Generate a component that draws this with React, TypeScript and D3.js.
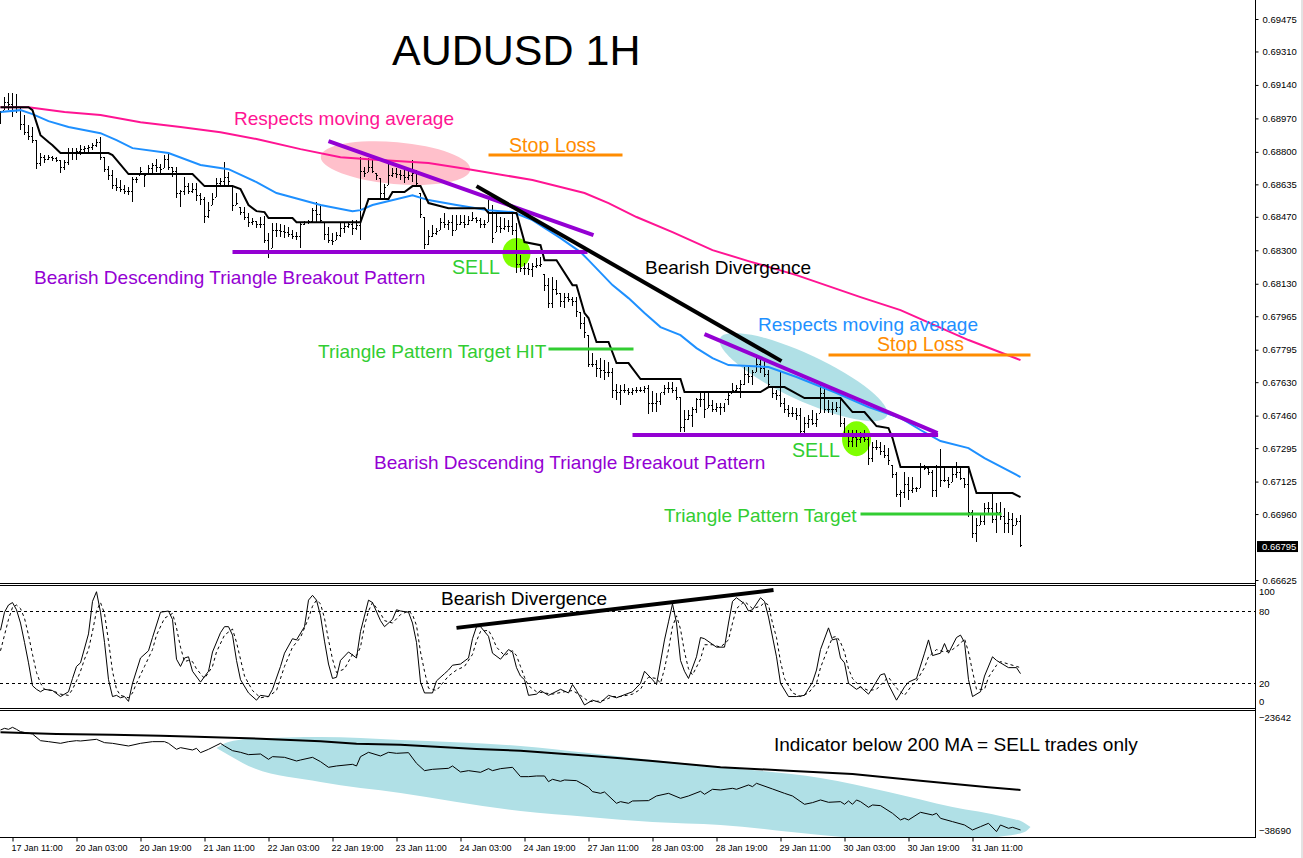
import React, { useEffect, useRef } from 'react';
import * as d3 from 'd3';

// prices are in points (1 point = 0.00001)
const highs = [
  69007, 69078, 69099, 69099, 69093, 69022, 68987, 68936, 68926, 68860, 68794, 68784, 68784, 68779, 68773, 68758,
  68758, 68819, 68819, 68819, 68834, 68829, 68834, 68845, 68865, 68875, 68773, 68728, 68707, 68667, 68657, 68631,
  68621, 68672, 68672, 68723, 68692, 68733, 68743, 68763, 68738, 68784, 68789, 68723, 68723, 68606, 68672, 68641,
  68641, 68641, 68591, 68570, 68545, 68591, 68667, 68667, 68748, 68697, 68631, 68591, 68519, 68519, 68489, 68464,
  68448, 68469, 68474, 68387, 68438, 68438, 68433, 68428, 68418, 68403, 68392, 68443, 68448, 68453, 68514, 68545,
  68535, 68443, 68418, 68387, 68392, 68438, 68438, 68443, 68453, 68453, 68773, 68723, 68768, 68758, 68692, 68667,
  68636, 68743, 68718, 68718, 68707, 68707, 68718, 68758, 68707, 68591, 68469, 68403, 68428, 68413, 68464, 68489,
  68453, 68479, 68479, 68479, 68479, 68474, 68494, 68469, 68464, 68453, 68555, 68530, 68489, 68469, 68464, 68453,
  68489, 68438, 68276, 68235, 68235, 68235, 68260, 68265, 68179, 68159, 68164, 68149, 68083, 68083, 68083, 68062,
  68062, 67986, 67961, 67869, 67778, 67742, 67752, 67742, 67732, 67702, 67620, 67615, 67620, 67600, 67600, 67605,
  67605, 67610, 67615, 67585, 67575, 67575, 67615, 67630, 67630, 67605, 67554, 67488, 67488, 67503, 67549, 67575,
  67575, 67580, 67539, 67524, 67524, 67524, 67575, 67625, 67615, 67641, 67707, 67707, 67691, 67752, 67752, 67742,
  67691, 67605, 67590, 67681, 67549, 67514, 67503, 67498, 67498, 67453, 67463, 67488, 67473, 67615, 67605, 67539,
  67529, 67529, 67549, 67448, 67387, 67387, 67387, 67376, 67387, 67361, 67326, 67336, 67326, 67310, 67295, 67209,
  67173, 67082, 67173, 67148, 67148, 67097, 67219, 67209, 67199, 67183, 67209, 67290, 67199, 67148, 67199, 67224,
  67199, 67143, 67194, 66980, 66940, 66965, 67016, 67021, 67067, 67016, 67021, 66990, 66970, 66965, 66940, 66955,
];

const lows = [
  68941, 69012, 69012, 68977, 68997, 68911, 68885, 68860, 68845, 68712, 68728, 68743, 68758, 68753, 68748, 68692,
  68707, 68733, 68758, 68758, 68784, 68794, 68799, 68809, 68824, 68758, 68697, 68657, 68611, 68601, 68596, 68585,
  68580, 68545, 68641, 68682, 68621, 68692, 68692, 68697, 68692, 68718, 68707, 68672, 68565, 68519, 68580, 68585,
  68591, 68550, 68530, 68438, 68464, 68530, 68570, 68631, 68631, 68631, 68499, 68530, 68479, 68453, 68418, 68428,
  68413, 68413, 68337, 68260, 68311, 68367, 68367, 68362, 68367, 68357, 68352, 68311, 68428, 68433, 68443, 68443,
  68438, 68352, 68337, 68326, 68352, 68367, 68387, 68413, 68377, 68403, 68352, 68672, 68697, 68692, 68657, 68565,
  68565, 68631, 68672, 68667, 68657, 68641, 68657, 68646, 68621, 68464, 68306, 68326, 68367, 68377, 68403, 68413,
  68403, 68372, 68403, 68428, 68413, 68428, 68448, 68438, 68413, 68413, 68443, 68337, 68392, 68387, 68403, 68392,
  68377, 68184, 68189, 68174, 68174, 68164, 68210, 68215, 68093, 68006, 68006, 68072, 68011, 68006, 68037, 68017,
  67961, 67900, 67854, 67707, 67707, 67656, 67651, 67641, 67656, 67549, 67539, 67514, 67575, 67564, 67564, 67575,
  67580, 67575, 67468, 67478, 67478, 67514, 67564, 67575, 67575, 67539, 67376, 67376, 67437, 67402, 67473, 67503,
  67448, 67498, 67478, 67478, 67463, 67478, 67514, 67575, 67580, 67549, 67615, 67625, 67615, 67681, 67676, 67656,
  67600, 67549, 67539, 67503, 67473, 67453, 67453, 67437, 67351, 67371, 67397, 67412, 67402, 67473, 67473, 67473,
  67463, 67478, 67402, 67351, 67300, 67300, 67300, 67321, 67326, 67209, 67224, 67285, 67260, 67244, 67209, 67143,
  67046, 66995, 67041, 67031, 67067, 67072, 67092, 67183, 67158, 67046, 67046, 67097, 67122, 67092, 67122, 67143,
  67133, 67092, 66945, 66838, 66818, 66904, 66904, 66965, 66914, 66863, 66929, 66863, 66863, 66853, 66904, 66792,
];

const closes = [
  69000, 69050, 69040, 69030, 69010, 68940, 68900, 68880, 68860, 68740, 68770, 68760, 68770, 68765, 68755, 68720,
  68745, 68790, 68790, 68800, 68810, 68815, 68820, 68830, 68850, 68770, 68710, 68680, 68630, 68620, 68610, 68600,
  68600, 68660, 68660, 68700, 68680, 68715, 68730, 68720, 68710, 68760, 68720, 68700, 68590, 68600, 68625, 68600,
  68610, 68580, 68560, 68470, 68500, 68560, 68640, 68650, 68670, 68650, 68530, 68540, 68490, 68465, 68440, 68445,
  68430, 68430, 68350, 68300, 68400, 68400, 68395, 68390, 68380, 68370, 68370, 68430, 68440, 68445, 68500, 68480,
  68450, 68380, 68350, 68345, 68375, 68410, 68420, 68430, 68410, 68425, 68700, 68690, 68720, 68700, 68680, 68590,
  68620, 68680, 68690, 68685, 68680, 68670, 68680, 68690, 68640, 68480, 68330, 68370, 68385, 68395, 68440, 68430,
  68440, 68400, 68430, 68440, 68430, 68450, 68460, 68450, 68430, 68430, 68500, 68360, 68420, 68410, 68420, 68420,
  68400, 68230, 68210, 68210, 68200, 68220, 68225, 68230, 68120, 68030, 68100, 68080, 68040, 68060, 68050, 68040,
  67990, 67930, 67880, 67720, 67720, 67700, 67690, 67680, 67680, 67590, 67580, 67590, 67590, 67580, 67590, 67590,
  67590, 67600, 67520, 67520, 67530, 67580, 67600, 67600, 67590, 67550, 67400, 67440, 67460, 67490, 67540, 67540,
  67490, 67510, 67490, 67500, 67500, 67540, 67560, 67590, 67600, 67620, 67670, 67660, 67680, 67720, 67700, 67670,
  67620, 67570, 67560, 67520, 67490, 67470, 67470, 67460, 67380, 67420, 67440, 67420, 67440, 67570, 67490, 67490,
  67490, 67500, 67420, 67370, 67330, 67350, 67340, 67350, 67340, 67240, 67300, 67300, 67280, 67260, 67230, 67160,
  67060, 67070, 67110, 67080, 67090, 67090, 67200, 67190, 67170, 67080, 67200, 67130, 67130, 67110, 67160, 67170,
  67140, 67110, 66970, 66860, 66900, 66920, 66990, 66990, 66930, 66970, 66950, 66910, 66930, 66900, 66920, 66800,
];

const pinkMa: [number, number][] = [
  [0, 69027], [7, 69027], [16, 69002], [25, 68987], [35, 68951], [45, 68926], [55, 68900], [64, 68865], [75, 68814],
  [85, 68773], [92, 68763], [107, 68743], [117, 68712], [133, 68657], [146, 68591], [152, 68540], [159, 68469],
  [168, 68392], [178, 68301], [187, 68245], [199, 68174], [207, 68118], [215, 68062], [225, 67996], [242, 67844], [255, 67742],
];

const blueMa: [number, number][] = [
  [0, 69002], [5, 69012], [8, 68992], [12, 68956], [17, 68926], [25, 68895], [29, 68860], [33, 68819], [42, 68794],
  [50, 68733], [57, 68712], [64, 68646], [69, 68591], [80, 68530], [88, 68499], [90, 68504], [93, 68530], [103, 68580],
  [107, 68555], [114, 68530], [122, 68504], [128, 68494], [133, 68453], [140, 68362], [145, 68291], [147, 68250],
  [153, 68123], [157, 68057], [161, 67981], [165, 67910], [170, 67869], [174, 67803], [178, 67752], [182, 67717],
  [192, 67707], [199, 67656], [209, 67575], [217, 67503], [225, 67448], [230, 67387], [235, 67331], [242, 67295],
  [246, 67244], [255, 67148],
];

const blackMa: [number, number][] = [
  [0, 69027], [7, 69027], [8, 69012], [10, 68885], [12, 68850], [13, 68834], [15, 68794], [27, 68794], [28, 68784],
  [32, 68687], [48, 68687], [51, 68626], [58, 68626], [60, 68611], [62, 68530], [64, 68499], [66, 68494], [67, 68464],
  [73, 68464], [74, 68443], [90, 68443], [92, 68560], [97, 68560], [98, 68596], [101, 68596], [103, 68626], [105, 68626],
  [107, 68540], [112, 68514], [121, 68514], [122, 68489], [129, 68489], [131, 68342], [135, 68326], [136, 68250],
  [139, 68250], [143, 68123], [144, 68123], [146, 67981], [147, 67956], [149, 67834], [152, 67834], [154, 67727],
  [157, 67727], [160, 67646], [170, 67646], [171, 67580], [190, 67580], [192, 67605], [196, 67605], [201, 67549],
  [210, 67549], [213, 67478], [216, 67478], [219, 67407], [222, 67397], [223, 67346], [225, 67199], [242, 67199],
  [244, 67067], [253, 67067], [255, 67046],
];

const stochMain: [number, number][] = [
  [0, 64], [1, 79], [2, 85], [3, 87], [4, 81], [5, 70], [6, 54], [7, 37], [8, 18], [9, 15], [10, 13], [11, 15], [13, 14],
  [15, 9], [17, 13], [18, 24], [19, 34], [20, 37], [22, 61], [23, 88], [24, 96], [25, 79], [26, 54], [27, 23], [28, 9],
  [29, 10], [30, 8], [31, 9], [32, 5], [33, 20], [35, 41], [37, 47], [38, 58], [40, 79], [42, 80], [43, 73], [44, 40],
  [45, 34], [46, 41], [47, 42], [48, 30], [50, 21], [52, 30], [53, 46], [55, 62], [56, 67], [57, 67], [58, 60], [59, 39],
  [60, 23], [62, 12], [64, 6], [65, 10], [67, 9], [68, 15], [70, 34], [71, 45], [73, 57], [74, 56], [76, 67], [77, 89],
  [78, 93], [79, 89], [80, 76], [81, 55], [82, 36], [83, 24], [84, 25], [85, 39], [87, 46], [89, 41], [90, 63], [92, 89],
  [93, 87], [95, 72], [96, 67], [98, 73], [99, 81], [100, 80], [102, 79], [103, 70], [104, 54], [105, 21], [106, 12],
  [108, 12], [109, 22], [111, 28], [112, 31], [113, 35], [115, 36], [117, 41], [118, 57], [119, 67], [120, 67], [122, 59],
  [123, 45], [125, 40], [127, 48], [128, 46], [129, 33], [130, 26], [131, 23], [132, 10], [134, 11], [135, 14], [137, 10],
  [140, 15], [142, 12], [143, 19], [144, 14], [146, 2], [148, 6], [149, 5], [150, 4], [152, 10], [154, 8], [158, 13],
  [160, 20], [161, 30], [163, 23], [164, 19], [166, 56], [167, 71], [168, 86], [169, 70], [170, 39], [171, 30], [172, 24],
  [174, 42], [175, 58], [176, 57], [179, 50], [181, 50], [182, 70], [183, 88], [184, 91], [186, 86], [187, 80], [188, 81],
  [190, 91], [191, 88], [192, 75], [194, 42], [195, 20], [197, 9], [199, 9], [201, 10], [203, 21], [204, 31], [205, 48],
  [207, 66], [208, 56], [209, 57], [210, 41], [211, 37], [212, 20], [214, 15], [215, 17], [217, 11], [218, 16], [220, 27],
  [221, 28], [222, 19], [224, 6], [226, 17], [227, 21], [229, 24], [231, 45], [232, 56], [233, 43], [235, 45], [236, 53],
  [237, 45], [239, 58], [240, 60], [241, 54], [242, 23], [243, 9], [245, 13], [246, 26], [248, 42], [249, 39], [252, 33],
  [254, 33], [255, 28],
];

const stochSignal: [number, number][] = [
  [0, 47], [1, 60], [2, 73], [3, 83], [4, 85], [5, 82], [6, 74], [7, 60], [8, 44], [9, 29], [10, 20], [11, 15], [13, 14],
  [15, 11], [17, 10], [18, 15], [19, 22], [20, 30], [21, 40], [22, 48], [23, 63], [24, 80], [25, 87], [26, 78], [27, 55],
  [28, 30], [29, 15], [30, 10], [31, 9], [32, 8], [33, 12], [34, 20], [36, 34], [38, 48], [39, 60], [41, 74], [43, 78],
  [44, 66], [45, 50], [46, 38], [47, 39], [48, 38], [49, 32], [51, 24], [53, 34], [54, 46], [56, 60], [58, 65], [59, 54],
  [60, 40], [61, 26], [63, 14], [65, 8], [67, 9], [69, 14], [71, 34], [73, 50], [75, 58], [77, 74], [78, 84], [79, 89],
  [80, 86], [81, 74], [82, 56], [83, 40], [84, 29], [86, 32], [88, 44], [89, 43], [90, 50], [91, 68], [92, 80], [93, 87],
  [95, 78], [96, 72], [98, 70], [100, 77], [102, 80], [103, 77], [104, 68], [105, 46], [106, 30], [107, 16], [109, 14],
  [110, 18], [112, 26], [114, 31], [116, 34], [118, 44], [119, 55], [120, 63], [122, 64], [123, 58], [124, 50], [126, 43],
  [128, 47], [129, 43], [130, 34], [131, 25], [132, 18], [134, 13], [136, 12], [138, 11], [141, 13], [143, 14], [145, 10],
  [147, 5], [149, 5], [151, 6], [153, 9], [155, 9], [158, 11], [160, 15], [161, 21], [162, 25], [164, 24], [165, 20],
  [166, 32], [167, 48], [168, 67], [169, 76], [170, 65], [171, 46], [172, 32], [173, 27], [175, 40], [176, 52], [178, 52],
  [180, 50], [182, 56], [183, 70], [184, 82], [186, 88], [187, 85], [188, 82], [190, 84], [191, 87], [192, 85], [193, 70],
  [194, 58], [195, 38], [196, 24], [198, 12], [200, 9], [202, 12], [204, 20], [205, 33], [207, 50], [208, 58], [209, 59],
  [210, 54], [211, 46], [212, 32], [213, 24], [215, 17], [217, 14], [219, 15], [221, 22], [222, 25], [224, 16], [226, 10],
  [228, 19], [229, 22], [231, 33], [232, 42], [234, 48], [236, 46], [238, 48], [240, 53], [241, 57], [242, 46], [243, 30],
  [244, 15], [246, 15], [247, 25], [249, 35], [250, 38], [252, 36], [254, 34], [255, 33],
];

const flowLine: [number, number][] = [
  [0, -25843], [1, -25640], [2, -25762], [3, -25517], [4, -25762], [5, -26047], [8, -26332], [10, -27148], [12, -27270],
  [15, -27474], [17, -27270], [19, -27148], [20, -27189], [24, -26985], [26, -27392], [28, -27474], [32, -27800],
  [35, -27474], [38, -27270], [41, -27270], [42, -27474], [44, -28208], [45, -28004], [48, -28289], [49, -28086],
  [50, -28616], [52, -28208], [55, -27474], [56, -27800], [58, -28371], [60, -28575], [62, -28860], [65, -28779],
  [67, -29431], [68, -29105], [71, -29186], [74, -29635], [75, -29513], [78, -29186], [80, -29716], [82, -30409],
  [84, -30246], [88, -30043], [89, -30246], [90, -29105], [92, -28575], [95, -29023], [97, -28575], [99, -28697],
  [102, -28616], [104, -29920], [106, -30817], [108, -30654], [112, -30532], [113, -30246], [115, -30980], [117, -30817],
  [120, -31021], [122, -30573], [123, -30817], [125, -30573], [128, -30409], [130, -31551], [132, -31551], [134, -31469],
  [136, -31469], [137, -32163], [138, -31877], [140, -32122], [141, -31959], [144, -32040], [147, -32855], [148, -33386],
  [150, -33590], [151, -33426], [154, -34813], [155, -34609], [157, -34813], [158, -34527], [162, -34486], [164, -33916],
  [167, -33590], [170, -34201], [172, -33916], [175, -33345], [176, -33712], [178, -33100], [180, -33182], [183, -32978],
  [184, -33100], [187, -32570], [188, -32774], [189, -32366], [193, -33059], [196, -33590], [198, -33916], [201, -34935],
  [203, -34731], [205, -34405], [207, -34690], [210, -34609], [211, -34935], [212, -34527], [213, -34935], [214, -34405],
  [215, -34609], [217, -35302], [218, -35016], [220, -35098], [223, -36036], [225, -36851], [226, -36647], [227, -36851],
  [230, -35913], [233, -36240], [234, -36036], [235, -36647], [238, -37055], [241, -37463], [243, -38074], [245, -37667],
  [247, -37259], [249, -38278], [250, -37463], [252, -37870], [253, -37748], [255, -38074],
];

const flowMa: [number, number][] = [
  [0, -26129], [14, -26332], [28, -26414], [40, -26536], [49, -26659], [65, -26903], [80, -27229], [89, -27515],
  [100, -27637], [110, -27922], [119, -28167], [130, -28371], [147, -28982], [155, -29309], [163, -29635], [180, -30409],
  [197, -30817], [213, -31225], [230, -32040], [247, -32855], [255, -33182],
];

// shaded zone in the bottom pane
const zoneBars = [54, 57, 62, 80, 100, 130, 147, 163, 180, 205, 222, 238, 251, 256, 257.5];
const zoneUpper = [-28045, -27311, -26944, -26700, -27066, -27800, -28656, -29512, -30369, -31714, -33426, -35261, -36484, -37217, -37707];
const zoneLower = [-28045, -28901, -30246, -32203, -33548, -35750, -36484, -37095, -37462, -38685, -39296, -39296, -38807, -38318, -37707];

const priceTicks = [
  69475, 69310, 69140, 68970, 68800, 68635, 68470, 68300, 68130, 67965, 67795, 67630, 67460, 67295, 67125, 66960, 66625,
];
const lastPrice = 66795;
const stochTicks = [100, 80, 20, 0];
const flowTicks = [-23642, -38690];
const timeLabels = [
  '17 Jan 11:00', '20 Jan 03:00', '20 Jan 19:00', '21 Jan 11:00', '22 Jan 03:00', '22 Jan 19:00', '23 Jan 11:00', '24 Jan 03:00',
  '24 Jan 19:00', '27 Jan 11:00', '28 Jan 03:00', '28 Jan 19:00', '29 Jan 11:00', '30 Jan 03:00', '30 Jan 19:00', '31 Jan 11:00',
];

const FONT = '"Liberation Sans", Arial, sans-serif';
const PINK = '#ff1493';
const BLUE = '#1e90ff';
const PURPLE = '#9400d3';
const GREEN = '#32cd32';
const ORANGE = '#ff8c00';
const TEAL = '#b0e0e6';

const App = () => {
  const svgRef = useRef<SVGSVGElement | null>(null);

  useEffect(() => {
    if (!svgRef.current) return;
    const svg = d3.select(svgRef.current);
    svg.selectAll('*').remove();

    const right = 1255;
    const x = d3.scaleLinear().domain([0, 255]).range([0.5, 1020.5]);
    const y = d3.scaleLinear().domain([66625, 69475]).range([580, 19]);
    const yStoch = d3.scaleLinear().domain([0, 100]).range([707.4, 586.9]);
    const yFlow = d3.scaleLinear().domain([-23642, -38690]).range([712, 835]);

    const lineOf = (scale: d3.ScaleLinear<number, number>) =>
      d3.line<[number, number]>().x(d => x(d[0])).y(d => scale(d[1]));

    const defs = svg.append('defs');
    defs.append('clipPath').attr('id', 'flowClip')
      .append('rect').attr('x', 0).attr('y', 710).attr('width', right).attr('height', 127);

    // Shaded zones under the bars
    const ellipse = (bar: number, price: number, rx: number, ry: number, fill: string, angle = 0) =>
      svg.append('ellipse')
        .attr('cx', x(bar)).attr('cy', y(price))
        .attr('rx', rx).attr('ry', ry)
        .attr('fill', fill)
        .attr('transform', `rotate(${angle} ${x(bar)} ${y(price)})`);

    ellipse(98.75, 68743, 75, 21, '#ffc0cb', 5);
    ellipse(200.75, 67656, 92, 23, TEAL, 25);
    ellipse(129, 68286, 14, 15, '#7fff00');
    ellipse(214, 67343, 14.5, 17.5, '#7fff00');

    // OHLC bars
    const bars = svg.append('g').attr('stroke', '#000').attr('stroke-width', 1).attr('shape-rendering', 'crispEdges');
    highs.forEach((high, i) => {
      const open = i === 0 ? closes[0] : Math.min(high, Math.max(lows[i], closes[i - 1]));
      bars.append('line').attr('x1', x(i)).attr('x2', x(i)).attr('y1', y(high)).attr('y2', y(lows[i]));
      bars.append('line').attr('x1', x(i) - 1.5).attr('x2', x(i) - 0.5).attr('y1', y(open)).attr('y2', y(open));
      bars.append('line').attr('x1', x(i) + 0.5).attr('x2', x(i) + 1.5).attr('y1', y(closes[i])).attr('y2', y(closes[i]));
    });

    // Moving averages
    const drawLine = (points: [number, number][], scale: d3.ScaleLinear<number, number>, color: string, width: number, dash?: string) =>
      svg.append('path')
        .datum(points)
        .attr('fill', 'none')
        .attr('stroke', color)
        .attr('stroke-width', width)
        .attr('stroke-dasharray', dash ?? null)
        .attr('d', lineOf(scale));

    drawLine(pinkMa, y, PINK, 2);
    drawLine(blueMa, y, BLUE, 2);
    drawLine(blackMa, y, '#000', 2);

    // Trend lines and levels on the price pane
    const trend = (bars: [number, number], prices: [number, number], color: string, width: number, scale = y) =>
      svg.append('line')
        .attr('x1', x(bars[0])).attr('y1', scale(prices[0]))
        .attr('x2', x(bars[1])).attr('y2', scale(prices[1]))
        .attr('stroke', color)
        .attr('stroke-width', width);

    trend([82, 148.25], [68855, 68377], PURPLE, 4);
    trend([58, 146.75], [68291, 68291], PURPLE, 4);
    trend([176, 234.25], [67874, 67371], PURPLE, 4);
    trend([158, 234.4], [67361, 67361], PURPLE, 4);
    trend([119, 195.25], [68626, 67737], '#000', 4);
    trend([122, 155.5], [68784, 68784], ORANGE, 3);
    trend([207, 257.5], [67768, 67768], ORANGE, 3);
    trend([137, 158.25], [67798, 67798], GREEN, 3);
    trend([215, 250.25], [66960, 66960], GREEN, 3);

    // Stochastic pane
    [80, 20].forEach(level => {
      svg.append('line')
        .attr('x1', 0).attr('x2', right)
        .attr('y1', yStoch(level)).attr('y2', yStoch(level))
        .attr('stroke', '#000')
        .attr('stroke-dasharray', '3,3')
        .attr('shape-rendering', 'crispEdges');
    });
    drawLine(stochSignal, yStoch, '#000', 1, '3,3');
    drawLine(stochMain, yStoch, '#000', 1);
    trend([114, 193.25], [66, 97.4], '#000', 4, yStoch);

    // Bottom pane
    const zone = d3.area<number>()
      .x(d => x(d))
      .y0((_, i) => yFlow(zoneLower[i]))
      .y1((_, i) => yFlow(zoneUpper[i]))
      .curve(d3.curveMonotoneX);
    svg.append('path')
      .datum(zoneBars)
      .attr('fill', TEAL)
      .attr('clip-path', 'url(#flowClip)')
      .attr('d', zone);
    drawLine(flowMa, yFlow, '#000', 2);
    drawLine(flowLine, yFlow, '#000', 1);

    // Pane frames
    [583, 585, 708, 710, 837].forEach(lineY => {
      svg.append('line')
        .attr('x1', 0).attr('x2', right)
        .attr('y1', lineY + 0.5).attr('y2', lineY + 0.5)
        .attr('stroke', '#000')
        .attr('shape-rendering', 'crispEdges');
    });
    svg.append('line')
      .attr('x1', right + 0.5).attr('x2', right + 0.5)
      .attr('y1', 0).attr('y2', 838)
      .attr('stroke', '#000')
      .attr('shape-rendering', 'crispEdges');
    svg.append('rect').attr('x', 1301).attr('y', 0).attr('width', 2).attr('height', 858).attr('fill', '#e3e3e3');

    // Axes
    const styleAxis = (g: d3.Selection<SVGGElement, unknown, null, undefined>) => {
      g.select('.domain').remove();
      g.selectAll('text').style('font-family', FONT).style('font-size', '9.5px').style('fill', '#000');
      g.selectAll('line').attr('stroke', '#000');
    };

    const priceAxis = svg.append('g')
      .attr('transform', `translate(${right + 0.5},0)`)
      .call(d3.axisRight(y).tickValues(priceTicks).tickSize(3).tickPadding(4).tickFormat(d => (+d / 100000).toFixed(5)));
    styleAxis(priceAxis);

    const stochAxis = svg.append('g')
      .attr('transform', `translate(${right + 0.5},0)`)
      .call(d3.axisRight(yStoch).tickValues(stochTicks).tickSize(0).tickPadding(3).tickFormat(d3.format('d')));
    styleAxis(stochAxis);
    stochAxis.selectAll<SVGTextElement, number>('text')
      .attr('x', 3.5)
      .attr('y', d => (d === 100 ? 5 : d === 0 ? -6 : 0));

    const flowAxis = svg.append('g')
      .attr('transform', `translate(${right + 0.5},0)`)
      .call(d3.axisRight(yFlow).tickValues(flowTicks).tickSize(0).tickPadding(3.5).tickFormat(d3.format('d')));
    styleAxis(flowAxis);
    flowAxis.selectAll<SVGTextElement, number>('text')
      .attr('y', d => (d === flowTicks[0] ? 5 : -5));

    const timeBars = timeLabels.map((_, i) => 3 + i * 16);
    const timeAxis = svg.append('g')
      .attr('transform', 'translate(0,837.5)')
      .call(d3.axisBottom(x).tickValues(timeBars).tickSize(4).tickPadding(3)
        .tickFormat((_, i) => timeLabels[i]));
    styleAxis(timeAxis);
    timeAxis.selectAll('text')
      .attr('text-anchor', 'start')
      .attr('x', -1.5)
      .style('font-size', '9px');

    // Last price box
    svg.append('rect')
      .attr('x', 1257).attr('y', y(lastPrice) - 5.5)
      .attr('width', 41).attr('height', 11)
      .attr('fill', '#000');
    svg.append('text')
      .attr('x', 1262).attr('y', y(lastPrice) + 3.5)
      .attr('font-family', FONT).attr('font-size', 9.5)
      .attr('fill', '#fff')
      .text((lastPrice / 100000).toFixed(5));

    // Notes
    const note = (label: string, noteX: number, noteY: number, color: string, size = 19.05) =>
      svg.append('text')
        .attr('x', noteX).attr('y', noteY)
        .attr('font-family', FONT).attr('font-size', size)
        .attr('fill', color)
        .text(label);

    note('AUDUSD 1H', 392, 65, '#000', 43);
    note('Respects moving average', 234, 125, PINK);
    note('Stop Loss', 509, 152, ORANGE, 19.6);
    note('Bearish Descending Triangle Breakout Pattern', 34, 284, PURPLE);
    note('SELL', 452, 274, GREEN, 19.6);
    note('Bearish Divergence', 645, 274, '#000');
    note('Respects moving average', 758, 331, BLUE);
    note('Stop Loss', 877, 351, ORANGE, 19.6);
    note('Triangle Pattern Target HIT', 318, 358, GREEN);
    note('SELL', 792, 457, GREEN, 19.6);
    note('Bearish Descending Triangle Breakout Pattern', 374, 469, PURPLE);
    note('Triangle Pattern Target', 664, 522, GREEN);
    note('Bearish Divergence', 441, 605, '#000');
    note('Indicator below 200 MA = SELL trades only', 774, 751, '#000');
  }, []);

  return <svg ref={svgRef} width={1303} height={858} style={{ position: 'absolute', left: 0, top: 0, display: 'block', background: '#fff' }} />;
};

export default App;
